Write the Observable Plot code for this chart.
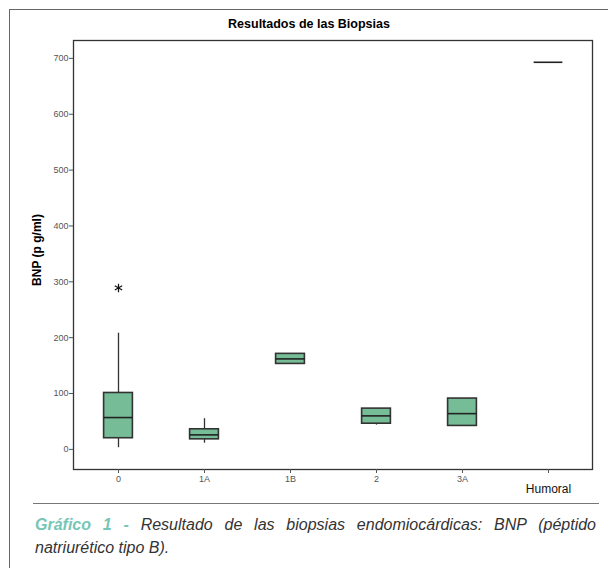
<!DOCTYPE html>
<html><head><meta charset="utf-8">
<script src="https://cdn.jsdelivr.net/npm/d3@7"></script>
<script src="https://cdn.jsdelivr.net/npm/@observablehq/plot@0.6"></script>
<style>
body{margin:0;background:#fff;}
#wrap{position:relative;width:608px;height:568px;overflow:hidden;font-family:"Liberation Sans Narrow","Liberation Sans",Arial,sans-serif;}
#frame{position:absolute;left:9px;top:9px;width:620px;height:600px;border-left:1.5px solid #666;border-top:1.5px solid #666;}
#title{position:absolute;left:10px;width:598px;top:17px;text-align:center;font-weight:bold;font-size:12.5px;}
#ylab{position:absolute;left:37px;top:250px;transform:translate(-50%,-50%) rotate(-90deg);font-weight:bold;font-size:12px;white-space:nowrap;}
#chart{position:absolute;left:0;top:0;}
#sep{position:absolute;left:33px;width:566px;top:503px;border-top:1.5px solid #777;}
#cap{position:absolute;left:35px;width:561px;top:513px;font-style:italic;font-size:16px;line-height:23px;color:#333;}
#cap .l1{text-align:justify;text-align-last:justify;}
#cap b{color:#76c6b6;}
</style></head>
<body>
<div id="wrap">
  <div id="frame"></div>
  <div id="title">Resultados de las Biopsias</div>
  <div id="chart"></div>
  <div id="ylab">BNP (p g/ml)</div>
  <div id="sep"></div>
  <div id="cap"><div class="l1"><b>Gráfico 1 -</b> Resultado de las biopsias endomiocárdicas: BNP (péptido</div><div>natriurético tipo B).</div></div>
</div>
<script>
const categories = ["0", "1A", "1B", "2", "3A", "Humoral"];
const q1 = [20, 18, 153, 46, 42, null];
const median = [57, 26, 162, 60, 64, 693];
const q3 = [101, 36, 171, 73, 91, null];
const whiskerLo = [3, 11, null, 43.5, null, null];
const whiskerHi = [208, 55, null, 73, null, null];
const outlierCat = ["0"];
const outlierVal = [289];
const yTicks = [0, 100, 200, 300, 400, 500, 600, 700];

const idx = categories.map((_, i) => i);
const boxIdx = idx.filter(i => q1[i] != null);
const whIdx = idx.filter(i => whiskerLo[i] != null);
const outIdx = outlierVal.map((_, i) => i);

const ink = "#333";
const side = 28.6;

const chart = Plot.plot({
  width: 608,
  height: 500,
  marginTop: 40,
  marginLeft: 73,
  marginRight: 16,
  marginBottom: 31,
  style: {fontFamily: '"Liberation Sans Narrow","Liberation Sans",Arial,sans-serif', background: "transparent"},
  x: {type: "band", domain: categories, padding: 0},
  y: {domain: [-36, 732]},
  marks: [
    Plot.ruleX(whIdx, {x: i => categories[i], y1: i => whiskerLo[i], y2: i => whiskerHi[i], stroke: ink, strokeWidth: 1.3}),
    Plot.barY(boxIdx, {x: i => categories[i], y1: i => q1[i], y2: i => q3[i], fill: "#76bd97", stroke: ink, strokeWidth: 1.6, insetLeft: side, insetRight: side}),
    Plot.tickY(idx, {x: i => categories[i], y: i => median[i], stroke: "#222", strokeWidth: 1.6, insetLeft: side, insetRight: side}),
    Plot.dot(outIdx, {x: i => outlierCat[i], y: i => outlierVal[i], symbol: "asterisk", r: 4, stroke: "#111", strokeWidth: 1.2}),
    Plot.frame({stroke: ink, strokeWidth: 1.3}),
    Plot.axisY({ticks: yTicks, tickSize: 4, tickPadding: 1, fontSize: 9, color: "#555", label: null}),
    Plot.axisX({ticks: categories.slice(0, 5), tickSize: 4, tickPadding: 2, fontSize: 9, color: "#555", label: null}),
    Plot.axisX({ticks: ["Humoral"], tickSize: 4, tickPadding: 11, fontSize: 12, fill: "#111", stroke: "#555", label: null})
  ]
});
document.getElementById("chart").appendChild(chart);
</script>
</body></html>
